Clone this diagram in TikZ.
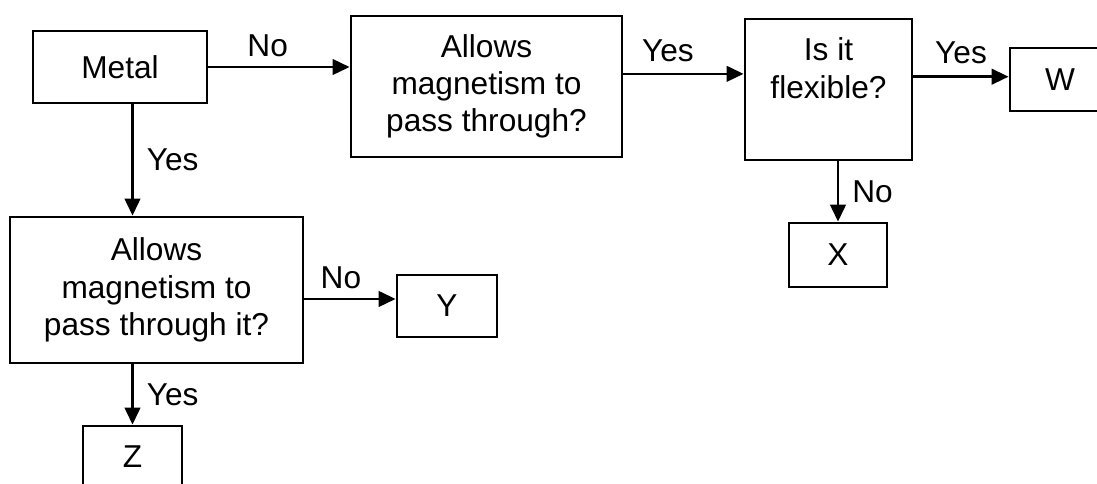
\documentclass[tikz,border=0pt]{standalone}
\usepackage{fontspec}
\setmainfont{Liberation Sans}
\usetikzlibrary{arrows.meta}
\begin{document}
\begin{tikzpicture}[x=0.025cm,y=-0.025cm,
  box/.style={draw,line width=2pt,align=center,inner sep=0pt},
  arr/.style={line width=1.8pt,-{Triangle[length=12pt,width=11pt]}},
  every node/.append style={font=\fontsize{22.5}{26.5}\selectfont}]
\useasboundingbox[fill=white] (0,0) rectangle (1097,483);
\node[box,minimum width=4.35cm,minimum height=1.8cm] (metal) at (120,67) {Metal};
\node[box,minimum width=6.775cm,minimum height=3.525cm] (pass) at (486.5,86.5) {Allows\\magnetism to\\pass through?};
\node[box,minimum width=4.175cm,minimum height=3.525cm,
      label={[anchor=center,align=center,yshift=-36pt]north:Is it\\flexible?}] (flex) at (828.5,89.5) {};
\node[box,minimum width=2.5cm,minimum height=1.575cm] (w) at (1060,79.5) {W};
\node[box,minimum width=2.45cm,minimum height=1.6cm] (x) at (838,255) {X};
\node[box,minimum width=7.325cm,minimum height=3.65cm] (passit) at (156.5,290) {Allows\\magnetism to\\pass through it?};
\node[box,minimum width=2.5cm,minimum height=1.55cm] (y) at (447,306) {Y};
\node[box,minimum width=2.475cm,minimum height=1.55cm] (z) at (132.5,457) {Z};
% arrows
\draw[arr] (metal.east) -- (metal.east -| pass.west) node[pos=0.42,above=3pt]{No};
\draw[arr] ([yshift=9pt]pass.east) -- ([yshift=9pt]pass.east -| flex.west) node[pos=0.37,above=4pt]{Yes};
\draw[arr] ([yshift=2pt]w.west -| flex.east) -- ([yshift=2pt]w.west) node[midway,above=5pt]{Yes};
\draw[arr] (flex.south -| x.north) -- (x.north) node[midway,right=6pt]{No};
\draw[arr] (metal.south -| z.north) -- (passit.north -| z.north) node[midway,right=6pt]{Yes};
\draw[arr] ([yshift=5pt]y.west -| passit.east) -- ([yshift=5pt]y.west) node[pos=0.4,above=3pt]{No};
\draw[arr] (passit.south -| z.north) -- (z.north) node[midway,right=6pt]{Yes};
\end{tikzpicture}
\end{document}
